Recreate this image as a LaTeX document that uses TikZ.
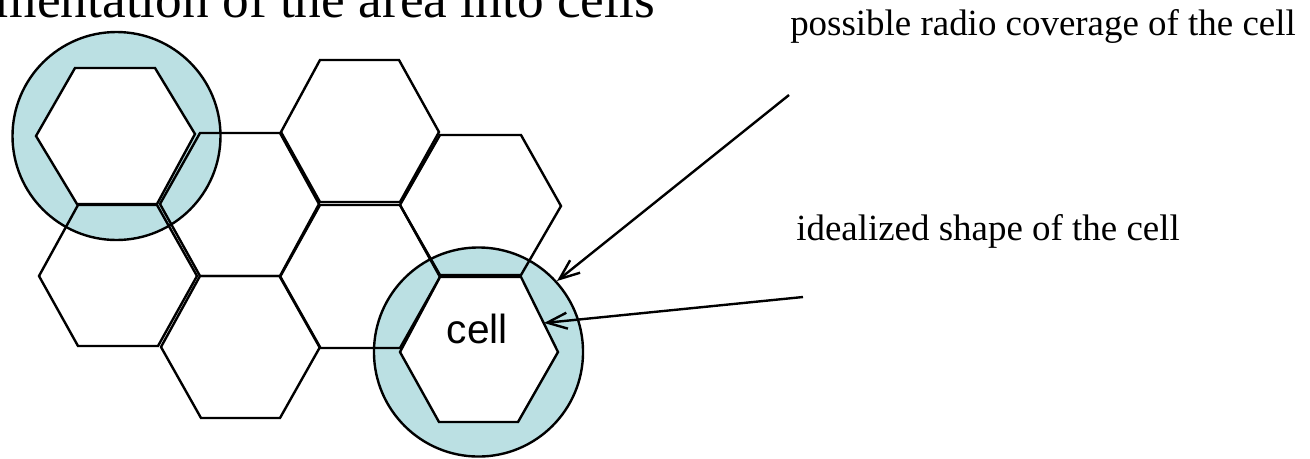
\documentclass[tikz,border=0pt]{standalone}
\usepackage{fontspec}
\setmainfont{Liberation Serif}
\newfontfamily\cellfont{Liberation Sans}
\usetikzlibrary{arrows.meta}
\definecolor{coverage}{RGB}{187,224,227}
\begin{document}
\begin{tikzpicture}[x=0.75pt,y=-0.75pt,
  hexcell/.style={draw=black,line width=1.8pt,line join=miter},
  coverzone/.style={draw=black,line width=1.8pt,fill=coverage},
  pointer/.style={draw=black,line width=1.8pt,-{Straight Barb[length=15pt,width=12pt]}},
  serifnote/.style={font=\fontsize{27.7}{33}\selectfont,inner sep=0pt},
]
\useasboundingbox (0,0) rectangle (1310,458);
\clip (0,0) rectangle (1310,458);

% radio coverage areas
\draw[coverzone] (116.5,136) circle[radius=78pt];
\draw[coverzone] (478.5,352) circle[radius=78.4pt];

% hexagonal cells, each drawn on its own
\draw[hexcell,fill=white] (36,136) -- (75,68) -- (155,68) -- (195,134) -- (157,204) -- (77,204) -- cycle;
\draw[hexcell] (160,204) -- (200,133) -- (280,133) -- (319,204) -- (280,276) -- (200,276) -- cycle;
\draw[hexcell] (39,276) -- (78,205) -- (157,205) -- (197,276) -- (158,346) -- (78,346) -- cycle;
\draw[hexcell] (281,132) -- (320,60) -- (399,60) -- (439,132) -- (400,202) -- (320,202) -- cycle;
\draw[hexcell] (280,277) -- (320,205) -- (400,205) -- (440,277) -- (400,348) -- (320,348) -- cycle;
\draw[hexcell] (400,205) -- (440,135) -- (521,135) -- (561,206) -- (521,275) -- (440,275) -- cycle;
\draw[hexcell] (161,347) -- (200,276) -- (280,276) -- (320,347) -- (280,418) -- (201,418) -- cycle;
\draw[hexcell,fill=white] (400,352) -- (440,277) -- (521,277) -- (558,352) -- (518,422) -- (439,422) -- cycle;

% texts
\node[anchor=base east,font=\fontsize{40}{48}\selectfont,inner sep=0pt] (title) at (655,17) {mentation of the area into cells};
\node[serifnote,anchor=base west] (covlabel) at (790,35) {possible radio coverage of the cell};
\node[serifnote,anchor=base west] (shapelabel) at (796,240) {idealized shape of the cell};
\node[font=\cellfont\fontsize{30.5}{36}\selectfont,anchor=base,inner sep=0pt] (celllabel) at (477.5,343) {cell};

% pointers
\coordinate (covtail) at (789,95);
\coordinate (covtip) at (557,281);
\coordinate (shapetail) at (803,297);
\coordinate (shapetip) at (544,323);
\draw[pointer] (covtail) -- (covtip);
\draw[pointer] (shapetail) -- (shapetip);
\end{tikzpicture}
\end{document}
